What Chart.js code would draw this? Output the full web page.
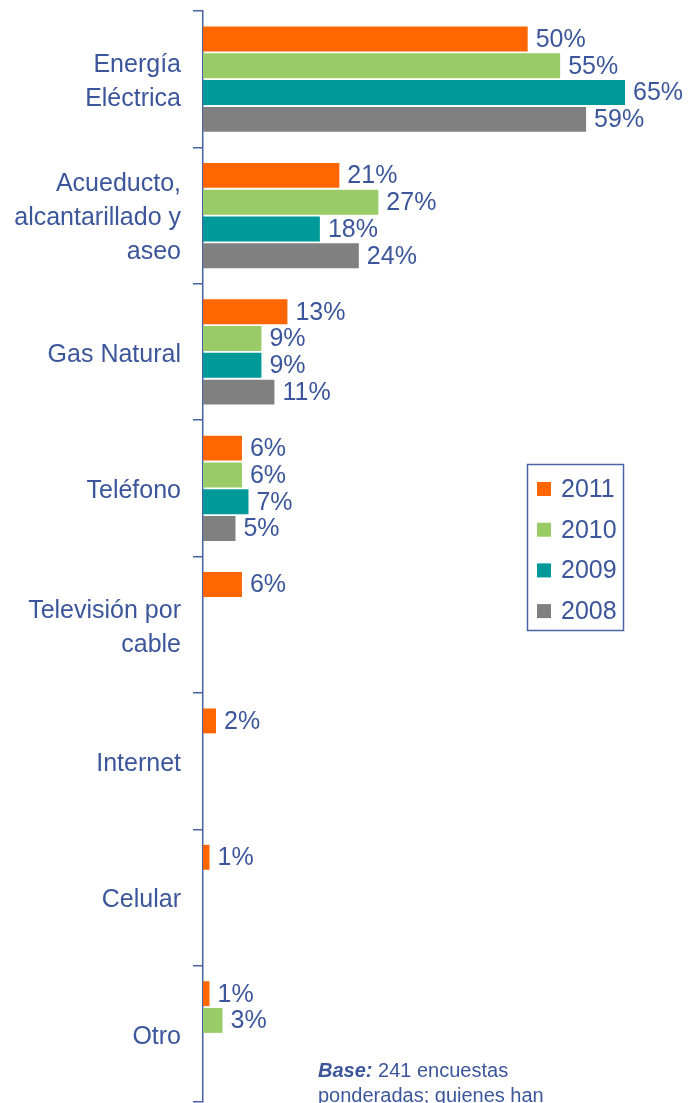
<!DOCTYPE html>
<html>
<head>
<meta charset="utf-8">
<script src="https://cdn.jsdelivr.net/npm/chart.js@4"></script>
<style>
  body { margin: 0; background: #fff; }
  #wrap { width: 690px; height: 1103px; }
</style>
</head>
<body>
<div id="wrap"><canvas id="myChart" width="690" height="1103"></canvas></div>
<script>
// Data
const categories = [
  ["Energía", "Eléctrica"],
  ["Acueducto,", "alcantarillado y", "aseo"],
  "Gas Natural",
  "Teléfono",
  ["Televisión por", "cable"],
  "Internet",
  "Celular",
  "Otro",
];
const years = ["2011", "2010", "2009", "2008"];
const values2011 = [50, 21, 13, 6, 6, 2, 1, 1];
const values2010 = [55, 27, 9, 6, null, null, null, 3];
const values2009 = [65, 18, 9, 7, null, null, null, null];
const values2008 = [59, 24, 11, 5, null, null, null, null];
const colors = ["#FF6600", "#99CC66", "#009999", "#808080"];

const FONT = "'Liberation Sans', Arial, sans-serif";
const TEXT = "#3B569B";
const AXIS = "#4863A6";

// value labels at the end of each bar
const valueLabels = {
  id: "valueLabels",
  afterDatasetsDraw(chart) {
    const c = chart.ctx;
    c.save();
    c.font = "25px " + FONT;
    c.fillStyle = TEXT;
    c.textAlign = "left";
    c.textBaseline = "middle";
    chart.data.datasets.forEach((ds, i) => {
      chart.getDatasetMeta(i).data.forEach((bar, j) => {
        if (ds.data[j] == null) return;
        c.fillText(ds.data[j] + "%", bar.x + 8, bar.y + 1);
      });
    });
    c.restore();
  },
};

// boxed legend inside the plot + base note
const boxLegend = {
  id: "boxLegend",
  afterDraw(chart) {
    const c = chart.ctx;
    c.save();
    c.strokeStyle = AXIS;
    c.lineWidth = 1.5;
    c.strokeRect(527.5, 464.5, 96, 166);
    c.font = "25px " + FONT;
    c.textBaseline = "middle";
    chart.data.datasets.forEach((ds, i) => {
      const y = 489 + i * 40.7;
      c.fillStyle = ds.backgroundColor;
      c.fillRect(537, y - 7, 14, 14);
      c.fillStyle = TEXT;
      c.fillText(ds.label, 561, y + 1);
    });
    c.fillStyle = TEXT;
    c.font = "italic bold 20px " + FONT;
    c.textBaseline = "alphabetic";
    c.fillText("Base:", 318, 1077);
    const w = c.measureText("Base: ").width;
    c.font = "20px " + FONT;
    c.fillText("241 encuestas", 318 + w, 1077);
    c.fillText("ponderadas; quienes han", 318, 1102);
    c.restore();
  },
};

const ctx = document.getElementById("myChart").getContext("2d");

new Chart(ctx, {
  type: "bar",
  data: {
    labels: categories,
    datasets: [values2011, values2010, values2009, values2008].map((d, i) => ({
      label: years[i],
      data: d,
      backgroundColor: colors[i],
      borderWidth: 0,
      categoryPercentage: 0.785,
      barPercentage: 0.93,
    })),
  },
  options: {
    indexAxis: "y",
    responsive: false,
    animation: false,
    layout: { padding: { top: 11, bottom: 1, left: 0, right: 0 } },
    plugins: {
      legend: { display: false },
      tooltip: { enabled: false },
    },
    scales: {
      x: {
        display: false,
        min: 0,
        max: 75,
      },
      y: {
        afterFit(scale) {
          scale.width = 203;
          scale.paddingTop = 0;
          scale.paddingBottom = 0;
        },
        grid: {
          offset: true,
          drawOnChartArea: false,
          tickLength: 10,
          color: AXIS,
          lineWidth: 1.5,
        },
        border: { display: true, color: AXIS, width: 1.5 },
        ticks: {
          color: TEXT,
          padding: 12,
          labelOffset: 3,
          font: { family: FONT, size: 25, lineHeight: 1.36 },
        },
      },
    },
  },
  plugins: [valueLabels, boxLegend],
});
</script>
</body>
</html>
